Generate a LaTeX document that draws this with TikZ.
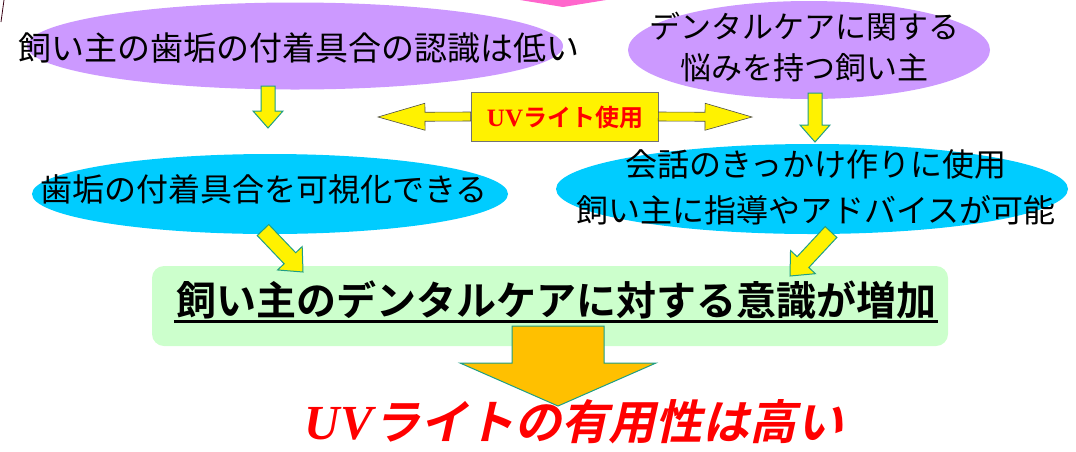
\documentclass[tikz,border=0pt]{standalone}
\usepackage{fontspec}
\usetikzlibrary{shapes.geometric,calc}
\newfontfamily\jp{Noto Sans CJK JP}
\newfontfamily\jpb{Noto Sans CJK JP Bold}
\newfontfamily\jpsl{Noto Sans CJK JP Bold}[FakeSlant=0.22]
\newfontfamily\uvs{Liberation Serif}
\definecolor{lav}{HTML}{CC99FF}
\definecolor{sky}{HTML}{00CCFF}
\definecolor{mint}{HTML}{CCFFCC}
\definecolor{tealb}{HTML}{1E9E86}
\definecolor{gold}{HTML}{FFC000}
\definecolor{pinkm}{HTML}{FF66CC}
\definecolor{uvred}{HTML}{FF0000}
% block arrow: #1 style, #2 tail, #3 tip, #4 half shaft, #5 half head, #6 head length
\newcommand{\barrow}[6]{%
  \coordinate (bn) at ($(#3)!#6!(#2)$);
  \draw[#1] ($(#2)!#4!90:(#3)$) -- ($(bn)!#4!90:(#3)$) -- ($(bn)!#5!90:(#3)$) -- (#3)
    -- ($(bn)!#5!-90:(#3)$) -- ($(bn)!#4!-90:(#3)$) -- ($(#2)!#4!-90:(#3)$) -- cycle;}
\tikzset{
  bubble/.style={ellipse, inner sep=0pt},
  txt/.style={inner sep=0pt, align=center, text=black},
  smallarr/.style={fill=yellow, draw=tealb, line width=1pt, line join=miter},
  uvarr/.style={fill=yellow, draw=black!70, line width=0.6pt, line join=miter},
  bigarr/.style={fill=gold, draw=tealb, line width=1pt, line join=miter},
}
\begin{document}
\begin{tikzpicture}[x=1pt,y=-1pt]
\useasboundingbox (0,0) rectangle (1076,451);
% cut-off fragments at the top
\fill[pinkm] (520,0) -- (563,7) -- (606,0) -- cycle;
\draw[black!70!purple, line width=0.8pt] (4,0) -- (1,22);

% bubbles
\node[bubble, fill=lav, minimum width=536pt, minimum height=87pt] (e1) at (295,46) {};
\node[txt, font=\jp\fontsize{33}{40}\selectfont] (t1) at (299,48) {飼い主の歯垢の付着具合の認識は低い};

\node[bubble, fill=lav, minimum width=362pt, minimum height=98pt] (e2) at (809,50) {};
\node[txt, font=\jp\fontsize{31}{41}\selectfont] (t2) at (804,47) {デンタルケアに関する\\悩みを持つ飼い主};

\node[bubble, fill=sky, minimum width=476pt, minimum height=80pt] (b1) at (270,194) {};
\node[txt, font=\jp\fontsize{32}{40}\selectfont] (t3) at (264,189) {歯垢の付着具合を可視化できる};

\node[bubble, fill=sky, minimum width=512pt, minimum height=90pt] (b2) at (812,189) {};
\node[txt, font=\jp\fontsize{32}{46}\selectfont] (t4) at (816,187) {会話のきっかけ作りに使用\\飼い主に指導やアドバイスが可能};

% UV light box with double arrow
\node[rectangle, fill=yellow, draw=black!55, line width=0.6pt, minimum width=187pt, minimum height=49pt, inner sep=0pt] (uv) at (564.5,116.5) {};
\node[txt, text=uvred] (uvt) at (565,117) {{\uvs\bfseries\fontsize{25}{28}\selectfont UV}{\jpb\fontsize{24}{28}\selectfont ライト使用}};
\coordinate (ltip) at (378,117);
\coordinate (rtip) at (752,117);
\barrow{uvarr}{uv.west}{ltip}{4.5pt}{13.5pt}{47pt}
\barrow{uvarr}{uv.east}{rtip}{4.5pt}{13.5pt}{47pt}

% green result box
\node[rectangle, rounded corners=12pt, fill=mint, minimum width=796pt, minimum height=80pt] (g) at (550,306) {};
\node[txt, font=\jpb\fontsize{40}{44}\selectfont] (gt) at (556,300) {飼い主のデンタルケアに対する意識が増加};
\draw[line width=2.6pt] ($(gt.south west)+(-2,2)$) -- ($(gt.south east)+(2,2)$);

% small arrows
\coordinate (a1s) at (268,86);  \coordinate (a1e) at (268,128);
\coordinate (a2s) at (815,93);  \coordinate (a2e) at (815,142);
\coordinate (a3s) at (263,230); \coordinate (a3e) at (303,272);
\coordinate (a4s) at (831,232); \coordinate (a4e) at (790,276);
\barrow{smallarr}{a1s}{a1e}{7pt}{15pt}{17pt}
\barrow{smallarr}{a2s}{a2e}{7pt}{15pt}{17pt}
\barrow{smallarr}{a3s}{a3e}{8pt}{17pt}{19pt}
\barrow{smallarr}{a4s}{a4e}{8pt}{17pt}{19pt}

% big arrow
\coordinate (bs) at (558,326);
\coordinate (be) at (558,406);
\barrow{bigarr}{bs}{be}{46pt}{98pt}{43pt}

% conclusion
\node[txt, text=uvred] (fin) at (574,422) {{\uvs\bfseries\itshape\fontsize{49}{52}\selectfont UV}{\jpsl\fontsize{47}{52}\selectfont ライトの有用性は高い}};
\end{tikzpicture}
\end{document}
